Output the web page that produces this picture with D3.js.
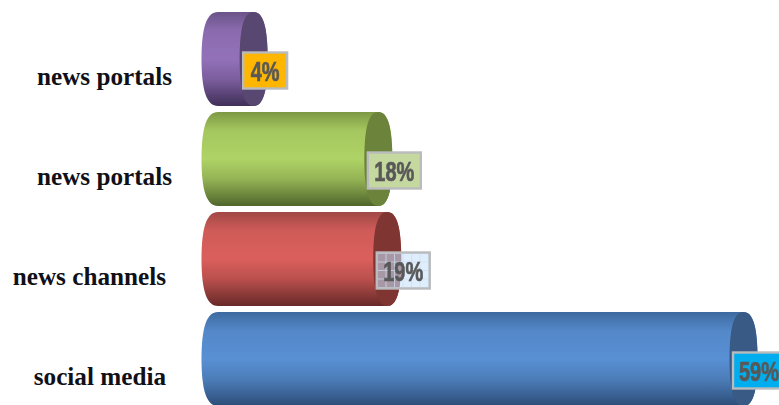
<!DOCTYPE html>
<html><head><meta charset="utf-8">
<script src="https://cdn.jsdelivr.net/npm/d3@7"></script>
<style>html,body{margin:0;padding:0;background:#fff;overflow:hidden}svg{display:block}</style>
</head><body><svg id="c" width="779" height="405"></svg>
<script>
const categories = ["news portals","news portals","news channels","social media"];
const values = [4,18,19,59];
const labels = ["4%","18%","19%","59%"];
const sideColors = [["#6a5488","#9371b9","#3f2f57"],["#7d9845","#afd366","#50652b"],["#a04947","#db5f5c","#672928"],["#3d6a9f","#5990d4","#2c4d77"]];
const capColors = ["#59466f","#6c833a","#7f3533","#385a84"];
const labelFills = ["#ffb600","#c5d8a0","url(#grid)","#00aeef"];

const svg=d3.select("#c");
const y=d3.scaleBand().domain(d3.range(categories.length)).range([12,406]).paddingInner(0.06).paddingOuter(0);
const rx=14, leftR=16.5, k=.68;
const x=d3.scaleLinear().domain([0,59]).range([201.5+leftR,757.5-rx]);
const defs=svg.append("defs");
sideColors.forEach((c,i)=>{
  const g=defs.append("linearGradient").attr("id","g"+i).attr("x1",0).attr("x2",0).attr("y1",0).attr("y2",1);
  [[0,c[0]],[.2,d3.interpolateRgb(c[0],c[1])(.8)],[.5,c[1]],[.72,d3.interpolateRgb(c[1],c[2])(.3)],[1,c[2]]].forEach(s=>{
    g.append("stop").attr("offset",s[0]).attr("stop-color",s[1]);
  });
});
const p=defs.append("pattern").attr("id","grid").attr("patternUnits","userSpaceOnUse").attr("width",8.5).attr("height",8.5).attr("x",377).attr("y",253);
p.append("rect").attr("width",8.5).attr("height",8.5).attr("fill","rgba(198,225,250,.57)");
p.append("path").attr("d","M0 .5H8.5M.5 0V8.5").attr("stroke","rgba(205,222,240,.75)").attr("fill","none");
defs.append("filter").attr("id","soft").append("feGaussianBlur").attr("stdDeviation",.45);

function halfRight(ctx,cx,t,b,r){const m=(t+b)/2,ry=(b-t)/2;
  ctx.bezierCurveTo(cx+k*r,t,cx+r,m-k*ry,cx+r,m);
  ctx.bezierCurveTo(cx+r,m+k*ry,cx+k*r,b,cx,b);}
function halfLeft(ctx,cx,t,b,r){const m=(t+b)/2,ry=(b-t)/2;
  ctx.bezierCurveTo(cx-k*r,b,cx-r,m+k*ry,cx-r,m);
  ctx.bezierCurveTo(cx-r,m-k*ry,cx-k*r,t,cx,t);}

const marks=svg.append("g").attr("filter","url(#soft)");
const rows=marks.selectAll("g.bar").data(values).join("g").attr("class","bar");
rows.each(function(v,i){
  const g=d3.select(this),t=y(i),b=t+y.bandwidth(),x0=x(0),x1=x(v);
  const body=d3.path();body.moveTo(x0,t);body.lineTo(x1,t);halfRight(body,x1,t,b,rx);body.lineTo(x0,b);halfLeft(body,x0,t,b,leftR);body.closePath();
  g.append("path").attr("fill",`url(#g${i})`).attr("d",body.toString());
  const cap=d3.path();cap.moveTo(x1,t);halfRight(cap,x1,t,b,rx);halfLeft(cap,x1,t,b,rx);cap.closePath();
  g.append("path").attr("fill",capColors[i]).attr("d",cap.toString());
});
const boxes=marks.selectAll("g.lab").data(values).join("g").attr("class","lab");
boxes.each(function(v,i){
  const g=d3.select(this),w=labels[i].length==2?44:53,bx=x(v)+rx-24.5,by=y(i)+40.5;
  g.append("rect").attr("x",bx).attr("y",by).attr("width",w).attr("height",36)
   .attr("fill",labelFills[i]).attr("stroke","#b9bbbd").attr("stroke-width",2.4);
  g.append("text").attr("transform",`translate(${bx+w/2+ (i==3?-0.5:0)},${by+28.5}) scale(.74,1)`).attr("text-anchor","middle")
   .attr("font-family","'Liberation Sans'").attr("font-weight",700).attr("font-size",27)
   .attr("fill","#595959").attr("stroke","#595959").attr("stroke-width",.7).text(labels[i]);
});
const labelRight=[172,172,166,166];
svg.selectAll("text.cat").data(categories).join("text").attr("class","cat")
  .attr("x",(d,i)=>labelRight[i]).attr("y",(d,i)=>y(i)+73)
  .attr("text-anchor","end").attr("font-family","'Liberation Serif'").attr("font-weight",700).attr("font-size",25.2)
  .attr("fill","#101018").text(d=>d);
</script></body></html>
